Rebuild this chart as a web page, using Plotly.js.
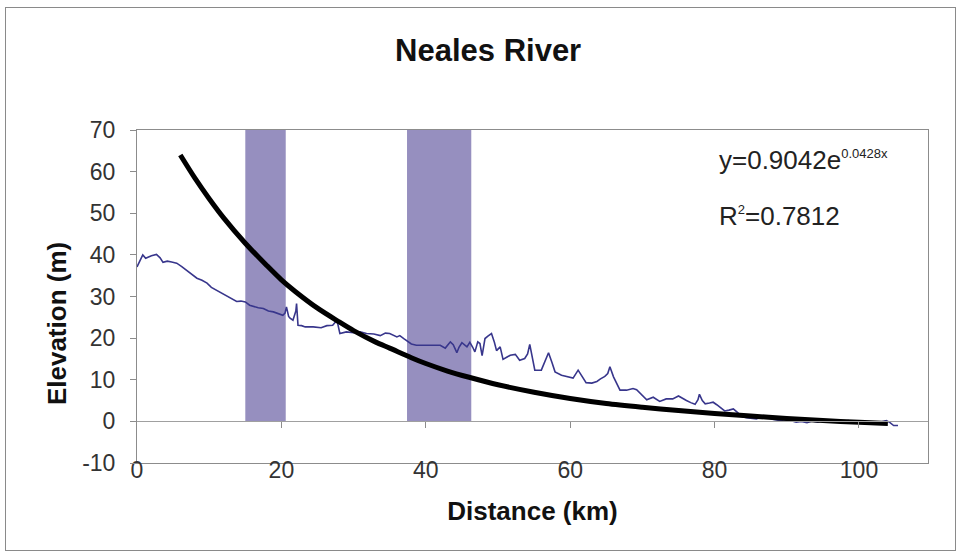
<!DOCTYPE html>
<html>
<head>
<meta charset="utf-8">
<script src="https://cdn.plot.ly/plotly-3.0.1.min.js"></script>
<style>
html,body{margin:0;padding:0;background:#fff;}
#chart{width:959px;height:556px;position:absolute;left:0;top:0;}
#frame{position:absolute;left:5px;top:7px;width:949px;height:542px;border:1px solid #8a8a8a;pointer-events:none;}
</style>
</head>
<body>
<div id="chart"></div>
<div id="frame"></div>
<script>
// River long profile (distance km, elevation m)
const distance = [0,0.4,0.8,1.2,1.5,2.0,2.7,3.2,3.6,4.2,4.8,5.5,6.2,6.9,7.6,8.3,9.0,9.7,10.3,11.0,11.7,12.4,13.1,13.8,14.4,15.0,15.6,16.1,16.8,17.5,18.2,18.9,19.5,20.2,20.5,20.7,21.0,21.2,21.6,22.0,22.1,22.3,22.8,23.3,24.4,25.5,26.3,27.1,27.7,28.1,29.0,30.0,30.9,31.8,32.8,33.7,34.4,35.0,36.0,36.4,37.0,37.4,38.0,38.7,39.5,40.5,41.2,42.0,42.7,43.4,43.8,44.3,44.6,45.0,45.7,46.1,46.5,46.8,47.2,47.5,47.8,48.2,48.6,49.1,49.5,49.8,50.3,50.7,51.2,51.7,52.4,53.0,53.7,54.1,54.4,54.8,55.1,56.0,56.5,57.0,57.5,57.9,58.8,59.7,60.4,61.1,61.6,62.2,63.0,63.7,64.2,64.8,65.2,65.5,66.0,66.5,66.9,67.8,68.7,69.2,69.7,70.2,70.6,71.5,72.4,73.3,74.2,75.0,75.6,76.1,76.7,77.3,77.7,77.9,78.3,78.7,79.3,79.8,80.3,80.7,81.4,82.0,82.6,83.2,83.7,84.4,85.1,85.8,86.3,86.7,87.1,87.4,88.0,88.8,89.6,90.5,91.3,92.0,92.8,93.5,94.3,95.0,95.7,96.4,97.1,97.8,98.5,99.2,100.0,100.8,101.5,102.2,102.9,103.4,103.8,104.3,104.8,105.4];
const elevation = [37.1,38.5,40.0,39.2,39.5,39.8,40.1,39.3,38.2,38.5,38.3,38.0,37.2,36.3,35.4,34.4,33.9,33.2,32.2,31.5,31.0,30.3,29.4,28.8,28.9,28.7,27.9,27.6,27.3,27.1,26.5,26.3,25.9,25.5,26.0,27.5,25.2,24.8,24.3,26.5,28.3,23.1,23.0,22.7,22.7,22.5,23.0,23.1,24.3,21.1,21.5,21.3,21.5,21.1,21.0,20.6,21.2,21.1,20.3,20.6,19.8,19.3,18.6,18.3,18.3,18.3,18.3,18.3,17.6,19.1,18.4,16.5,17.8,18.9,17.9,19.0,17.8,16.7,19.1,18.7,15.8,19.9,20.5,21.1,19.0,17.0,17.9,14.9,15.4,15.9,16.1,14.7,15.1,16.2,18.5,14.5,12.3,12.3,14.2,16.5,14.0,11.9,11.1,10.8,10.4,12.3,10.8,9.3,9.2,9.6,10.2,10.8,11.5,13.1,10.7,8.8,7.5,7.5,7.9,7.6,6.7,6.0,5.2,5.8,4.8,5.4,5.4,6.1,5.4,5.0,4.5,4.1,5.2,6.5,5.0,4.2,4.4,4.6,4.0,3.4,2.5,2.7,3.0,2.1,1.2,0.9,0.7,0.6,0.9,1.4,1.1,0.9,0.5,0.3,0.1,0.2,-0.2,0.0,-0.3,0.1,-0.2,0.3,0.0,0.4,0.1,-0.2,0.2,-0.1,-0.3,0.0,-0.4,-0.2,-0.2,0.0,0.2,-0.3,-1.0,-1.0];

// Exponential trendline
const trendDistance = [6,8,10,12,15,18,20,22,25,28,30,33,35,38,40,43,46,50,55,60,65,70,75,80,85,90,95,100,104];
const trendElevation = [64.0,58.5,53.5,48.9,42.8,37.4,34.0,31.1,27.2,23.9,21.8,19.1,17.6,15.3,13.9,12.1,10.6,8.8,7.0,5.5,4.3,3.4,2.6,1.9,1.3,0.7,0.2,-0.2,-0.5];

// Shaded reaches
const bandStart = [15.0, 37.4];
const bandEnd = [20.6, 46.3];
const bandBottom = 0;
const bandTop = 70;

const xTicks = [0,20,40,60,80,100];
const xMarkTicks = [20,40,60,80,100];
const yTicks = [-10,0,10,20,30,40,50,60,70];
const yTickLabels = ['-10','0','10','20','30','40','50','60','70'];

const titleText = 'Neales River';
const xTitleText = 'Distance (km)';
const yTitleText = 'Elevation (m)';
const yTitlePos = [-0.101, 23.4];
const equationText = 'y=0.9042e<sup><span style="font-size:13px">0.0428x</span></sup>';
const r2Text = 'R<sup><span style="font-size:13px">2</span></sup>=0.7812';
const equationPos = [80.3, 62.8];
const r2Pos = [80.3, 49.3];

const FONT = 'Liberation Sans, Arial, sans-serif';
const XRANGE = [0, 109.56];
const YRANGE = [-10, 70];

const traces = [
  {x: distance, y: elevation, type: 'scatter', mode: 'lines',
   line: {color: '#38368c', width: 1.6}, hoverinfo: 'skip', showlegend: false},
  {x: trendDistance, y: trendElevation, type: 'scatter', mode: 'lines',
   xaxis: 'x2', yaxis: 'y',
   line: {color: '#000000', width: 5, shape: 'spline', smoothing: 0.8}, hoverinfo: 'skip', showlegend: false}
];

const shapes = bandStart.map((s, i) => ({
  type: 'rect', xref: 'x', yref: 'y', x0: s, x1: bandEnd[i], y0: bandBottom, y1: bandTop,
  fillcolor: '#968fbf', line: {width: 0}, layer: 'below'
}));

const layout = {
  width: 959, height: 556,
  margin: {l: 137, r: 31, t: 130, b: 93},
  paper_bgcolor: 'rgba(0,0,0,0)', plot_bgcolor: '#ffffff',
  showlegend: false,
  title: {text: titleText, x: 0.509, xref: 'container', xanchor: 'center',
          y: 0.91, yref: 'container', yanchor: 'middle',
          font: {family: FONT, size: 31, color: '#111', weight: 'bold'}},
  xaxis: {range: XRANGE, showgrid: false, zeroline: false, showline: true, mirror: true,
          linecolor: '#8c8c8c', linewidth: 1, ticks: '', tickvals: xTicks,
          tickfont: {family: FONT, size: 23, color: '#333'}, ticklabelstandoff: -14,
          automargin: false,
          title: {text: xTitleText, standoff: 20, font: {family: FONT, size: 26, color: '#111', weight: 'bold'}}},
  xaxis2: {range: XRANGE, overlaying: 'x', anchor: 'free', position: 0.125, side: 'bottom',
           showgrid: false, zeroline: false, showline: true, linecolor: '#a0a0a0', linewidth: 1,
           ticks: 'outside', ticklen: 6, tickcolor: '#8c8c8c', tickvals: xMarkTicks,
           showticklabels: false, automargin: false},
  yaxis: {range: YRANGE, showgrid: false, zeroline: false, showline: true, mirror: true,
          linecolor: '#8c8c8c', linewidth: 1, ticks: 'outside', ticklen: 6, tickcolor: '#8c8c8c',
          tickvals: yTicks, ticktext: yTickLabels, ticklabelstandoff: 10,
          tickfont: {family: FONT, size: 23, color: '#333'}, automargin: false},
  shapes: shapes,
  annotations: [
    {x: yTitlePos[0], y: yTitlePos[1], xref: 'paper', yref: 'y', text: yTitleText, textangle: -90,
     showarrow: false, xanchor: 'center', yanchor: 'middle',
     font: {family: FONT, size: 26, color: '#111', weight: 'bold'}},
    {x: equationPos[0], y: equationPos[1], xref: 'x', yref: 'y', text: equationText,
     showarrow: false, xanchor: 'left', yanchor: 'middle', font: {family: FONT, size: 26, color: '#222'}},
    {x: r2Pos[0], y: r2Pos[1], xref: 'x', yref: 'y', text: r2Text,
     showarrow: false, xanchor: 'left', yanchor: 'middle', font: {family: FONT, size: 26, color: '#222'}}
  ]
};

Plotly.newPlot('chart', traces, layout, {staticPlot: true, displayModeBar: false});
</script>
</body>
</html>
